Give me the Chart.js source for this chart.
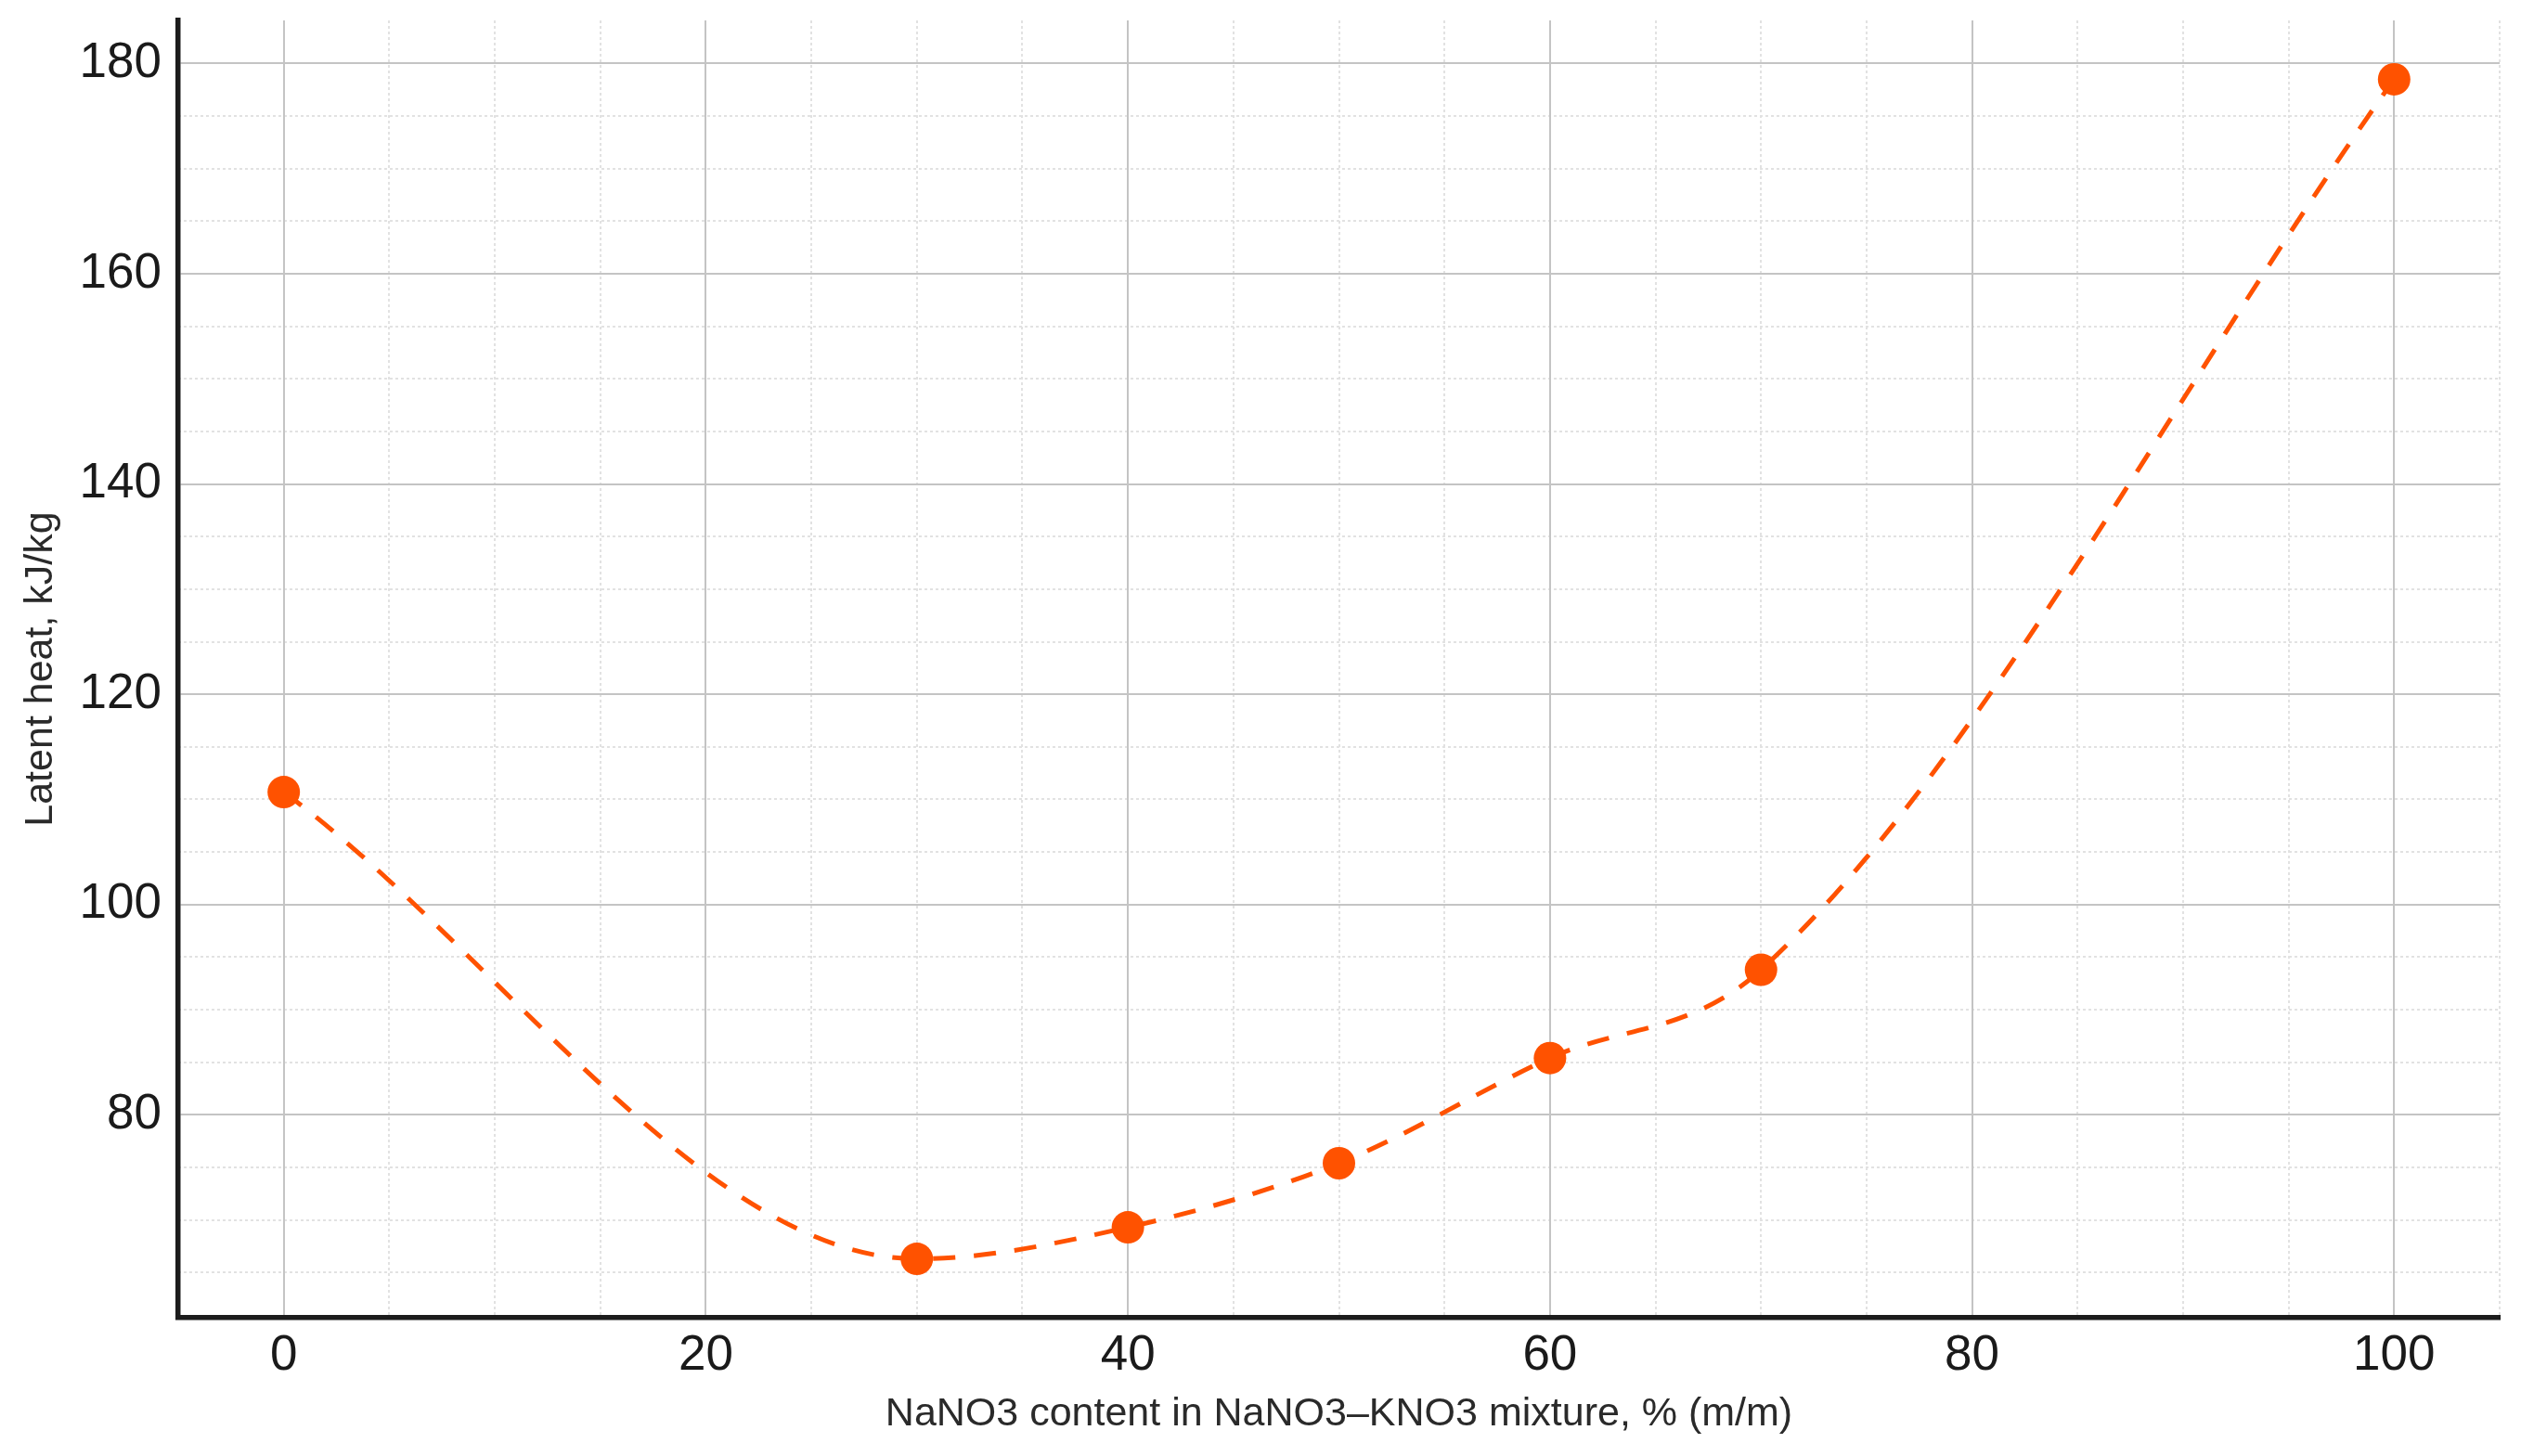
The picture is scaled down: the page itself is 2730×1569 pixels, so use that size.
<!DOCTYPE html>
<html>
<head>
<meta charset="utf-8">
<script src="https://cdn.jsdelivr.net/npm/chart.js@4.4.1/dist/chart.umd.min.js"></script>
<style>
	html, body { margin: 0; padding: 0; background: #fff; }
	#chart { display: block; }
</style>
</head>
<body>
<canvas id="chart" width="2730" height="1569"></canvas>
<script>
// NaNO3 share (% m/m) and measured latent heat (kJ/kg)
const nano3Content = [0, 30, 40, 50, 60, 70, 100];
const latentHeat = [110.7, 66.3, 69.3, 75.4, 85.4, 93.8, 178.5];

// axis ranges and tick steps
const xRange = [-5, 105];
const yRange = [60.7, 184.1];
const majorStep = 20;
const minorStep = 5;

const xTitle = "NaNO3 content in NaNO3–KNO3 mixture, % (m/m)";
const yTitle = "Latent heat, kJ/kg";

const orange = "#ff5200";
const majorGrid = "#c4c4c4";
const minorGrid = "#e2e2e2";
const axisColor = "#1c1c1c";

Chart.defaults.font.family = "'Liberation Sans', Arial, sans-serif";
Chart.defaults.color = "#1a1a1a";

const points = nano3Content.map((x, i) => ({ x: x, y: latentHeat[i] }));

const minorColor = (ctx) => (ctx.tick && ctx.tick.value % majorStep === 0 ? "rgba(0,0,0,0)" : minorGrid);

// keep the plot box where the reference has it
const noPad = (scale) => {
	scale.paddingTop = 0;
	scale.paddingBottom = 0;
	scale.paddingLeft = 0;
	scale.paddingRight = 0;
};

const ctx = document.getElementById("chart");
const chart = new Chart(ctx, {
	type: "line",
	data: {
		datasets: [
			{
				data: points,
				borderColor: orange,
				backgroundColor: orange,
				borderWidth: 5,
				borderDash: [24, 20],
				cubicInterpolationMode: "monotone",
				pointRadius: 17.5,
				pointHoverRadius: 17.5,
				pointBorderWidth: 0,
				pointBackgroundColor: orange,
				fill: false,
			},
		],
	},
	options: {
		responsive: false,
		animation: false,
		devicePixelRatio: 1,
		layout: { padding: { top: 22, right: 37, left: 0, bottom: 0 } },
		plugins: {
			legend: { display: false },
			tooltip: { enabled: false },
		},
		scales: {
			xMinor: {
				type: "linear",
				position: "bottom",
				min: xRange[0],
				max: xRange[1],
				ticks: { display: false, stepSize: minorStep, includeBounds: false },
				grid: { color: minorColor, lineWidth: 2, drawTicks: false },
				border: { display: false, dash: [3, 3] },
				afterFit: (scale) => {
					scale.height = 0;
					noPad(scale);
				},
			},
			yMinor: {
				type: "linear",
				position: "left",
				min: yRange[0],
				max: yRange[1],
				ticks: { display: false, stepSize: minorStep, includeBounds: false },
				grid: { color: minorColor, lineWidth: 2, drawTicks: false },
				border: { display: false, dash: [3, 3] },
				afterFit: (scale) => {
					scale.width = 0;
					noPad(scale);
				},
			},
			x: {
				type: "linear",
				position: "bottom",
				min: xRange[0],
				max: xRange[1],
				ticks: {
					stepSize: majorStep,
					includeBounds: false,
					padding: 10,
					font: { size: 53 },
					maxRotation: 0,
				},
				grid: { color: majorGrid, lineWidth: 2, drawTicks: false },
				border: { display: true, color: axisColor, width: 5.5 },
				title: {
					display: true,
					text: xTitle,
					font: { size: 43 },
					color: "#2a2a2a",
					padding: { top: 0, bottom: 19 },
				},
				afterFit: (scale) => {
					scale.height = 149;
					noPad(scale);
				},
			},
			y: {
				type: "linear",
				position: "left",
				min: yRange[0],
				max: yRange[1],
				ticks: {
					stepSize: majorStep,
					includeBounds: false,
					padding: 18,
					font: { size: 53 },
				},
				grid: { color: majorGrid, lineWidth: 2, drawTicks: false },
				border: { display: true, color: axisColor, width: 5.5 },
				title: {
					display: true,
					text: yTitle,
					font: { size: 43 },
					color: "#2a2a2a",
					padding: { top: 18, bottom: 0 },
				},
				afterFit: (scale) => {
					scale.width = 192;
					noPad(scale);
				},
			},
		},
	},
});
</script>
</body>
</html>
